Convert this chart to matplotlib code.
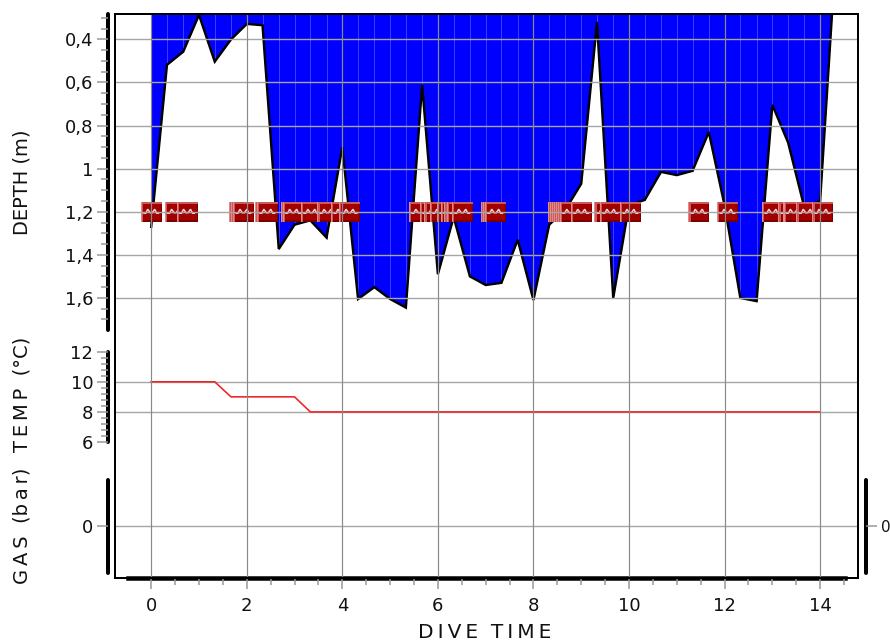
# %% Import modules
import matplotlib
matplotlib.use('Agg')
import matplotlib.pyplot as plt
from matplotlib.patches import Rectangle, PathPatch
from matplotlib.path import Path
from matplotlib.ticker import AutoMinorLocator, FixedFormatter, FixedLocator
from matplotlib.transforms import Affine2D, ScaledTranslation

# %% Data
time = [0, 0.33, 0.67, 1, 1.33, 1.67, 2, 2.33, 2.67, 3, 3.33,
        3.67, 4, 4.33, 4.67, 5, 5.33, 5.67, 6, 6.33, 6.67, 7,
        7.33, 7.67, 8, 8.33, 8.67, 9, 9.33, 9.67, 10, 10.33,
        10.67, 11, 11.33, 11.67, 12, 12.33, 12.67, 13, 13.33,
        13.67, 14, 14.33]
depth = [1.27, 0.518, 0.457, 0.286, 0.503, 0.40, 0.328, 0.334, 1.373, 1.26, 1.24,
         1.32, 0.90, 1.605, 1.55, 1.605, 1.645, 0.61, 1.49, 1.225, 1.50, 1.54,
         1.53, 1.33, 1.61, 1.26, 1.19, 1.07, 0.32, 1.60, 1.17, 1.145,
         1.015, 1.03, 1.01, 0.83, 1.17, 1.60, 1.615, 0.704, 0.879,
         1.18, 1.15, 0.0]
temp_time = [0, 1.33, 1.67, 3, 3.33, 14]
temp = [10, 10, 9, 9, 8, 8]

# times of the event icons
events = [0, 0.5, 0.75, 1.84, 1.885, 1.93, 2.39, 2.43, 2.93, 2.97, 3.35, 3.69,
          3.98, 4.15, 5.61, 5.84, 5.93, 6.05, 6.2, 6.28, 6.35, 6.41, 6.51,
          7.12, 7.16, 7.2, 8.52, 8.57, 8.61, 8.65, 8.69, 8.73, 8.77, 9.0,
          9.49, 9.61, 10.03, 11.46, 12.06, 13.0, 13.34, 13.45, 13.72, 14.05]
event_depth = 1.2

time_ticks = [0, 2, 4, 6, 8, 10, 12, 14]
depth_ticks = [0.4, 0.6, 0.8, 1, 1.2, 1.4, 1.6]
depth_labels = ['0,4', '0,6', '0,8', '1', '1,2', '1,4', '1,6']
temp_ticks = [6, 8, 10, 12]

# %% Figure helpers
W, H = 890, 642
DPI = 100
pt = 72 / DPI  # one pixel in points
grey = '#969696'
text_font = 'DejaVu Sans'
text_colour = '#111111'

fig = plt.figure(figsize=(W / DPI, H / DPI), dpi=DPI)


def px_axes(left, right, top, bottom, zorder):
    ax = fig.add_axes([left / W, 1 - bottom / H, (right - left) / W, (bottom - top) / H],
                      zorder=zorder)
    ax.patch.set_visible(False)
    for side in ax.spines:
        ax.spines[side].set_visible(False)
    ax.tick_params(bottom=False, labelbottom=False)
    return ax


def x_range(left, right):
    return (left - 151.2) / 47.78, (right - 151.2) / 47.78


def y_axis(ax, ticks, labels=None):
    sp = ax.spines['left']
    sp.set_visible(True)
    sp.set_position(('outward', 7.6 * pt))
    sp.set_linewidth(4 * pt)
    sp.set_capstyle('round')
    ax.yaxis.set_major_locator(FixedLocator(ticks))
    if labels:
        ax.yaxis.set_major_formatter(FixedFormatter(labels))
    ax.tick_params(axis='y', which='major', length=11 * pt, width=1.5 * pt, color=grey,
                   pad=3.5 * pt, labelsize=13, labelfontfamily=text_font, labelcolor=text_colour)
    ax.tick_params(axis='y', which='minor', length=7.5 * pt, width=1.5 * pt, color=grey)
    ax.set_axisbelow(False)
    ax.grid(True, axis='y', color='#a6a6a6', lw=1.4 * pt)


# %% Depth panel
depth_ax = px_axes(115.3, 858.3, 14, 330, 2)
depth_ax.set_xlim(*x_range(115.3, 858.3))
depth_ax.set_ylim(1.749, 0.282)
depth_ax.fill_between(time, depth, 0, color='#0000ff', lw=0)
depth_ax.vlines(time, 0, depth, color='#3c3cff', lw=1 * pt)
depth_ax.plot(time, depth, color='k', lw=2.4 * pt, solid_joinstyle='miter')
y_axis(depth_ax, depth_ticks, depth_labels)
depth_ax.yaxis.set_minor_locator(AutoMinorLocator(4))

# event icons, later ones sit on top of earlier ones
humps = Path([(-8, -1.5), (-5.5, -1.5), (-3.5, 2.5), (-1, -1), (1, -1), (3.5, 2.5), (5.5, -1.5), (8, -1.5)])
for i, t in enumerate(events):
    place = Affine2D() + ScaledTranslation(t, event_depth, depth_ax.transData)
    z = 2.1 + i * 0.005
    parts = [((-10.5, -10), 21, 20, '#e08a8a'),
             ((-9.3, -10), 19.8, 20, '#c85a5a'),
             ((-8, -10), 18.5, 18.2, '#7a0000'),
             ((-8, -8.6), 17.5, 16.8, '#a30000')]
    for xy, w, h, c in parts:
        depth_ax.add_patch(Rectangle(xy, w, h, fc=c, lw=0, transform=place,
                                     zorder=z, clip_on=False))
    depth_ax.add_patch(PathPatch(humps, fill=False, ec='#f5d5d5', lw=1.5 * pt,
                                 transform=place, zorder=z + 0.001, clip_on=False))

# %% Temperature panel
temp_ax = px_axes(115.3, 858.3, 351.7, 442, 3)
temp_ax.set_xlim(*x_range(115.3, 858.3))
temp_ax.set_ylim(6, 12)
temp_ax.plot(temp_time, temp, color='#ee2222', lw=1.6 * pt, zorder=3)
y_axis(temp_ax, temp_ticks)
temp_ax.yaxis.set_minor_locator(AutoMinorLocator(5))
temp_ax.yaxis.get_gridlines()[0].set_visible(False)
temp_ax.yaxis.get_gridlines()[-1].set_visible(False)

# %% Gas panel, same axis on both sides
gas_ax = px_axes(115.3, 858.3, 480, 573, 3)
gas_ax.set_xlim(*x_range(115.3, 858.3))
gas_ax.set_ylim(-0.509, 0.491)
y_axis(gas_ax, [0])
sp = gas_ax.spines['right']
sp.set_visible(True)
sp.set_position(('outward', 7.7 * pt))
sp.set_linewidth(4 * pt)
sp.set_capstyle('round')
gas_ax.tick_params(axis='y', right=True, labelright=True)
# right hand label only just fits inside the picture
gas_ax.yaxis.get_major_ticks()[0].label2.set_fontsize(11)

# %% Time axis with the vertical grid
time_ax = px_axes(128, 845, 14, 577.7, 4)
time_ax.set_xlim(*x_range(128, 845))
time_ax.set_yticks([])
sp = time_ax.spines['bottom']
sp.set_visible(True)
sp.set_linewidth(4.5 * pt)
time_ax.xaxis.set_major_locator(FixedLocator(time_ticks))
time_ax.xaxis.set_minor_locator(AutoMinorLocator(4))
time_ax.tick_params(axis='x', which='major', bottom=True, labelbottom=True, length=11 * pt,
                    width=1.5 * pt, color=grey, pad=6, labelsize=13,
                    labelfontfamily=text_font, labelcolor=text_colour)
time_ax.tick_params(axis='x', which='minor', bottom=True, length=7 * pt,
                    width=1.5 * pt, color=grey)
time_ax.set_axisbelow(False)
time_ax.grid(True, axis='x', color='#8a8a8a', lw=1.2 * pt)

# %% Plot frame
frame_ax = px_axes(115.3, 858.3, 14, 577.7, 5)
frame_ax.set_xticks([])
frame_ax.set_yticks([])
for side in frame_ax.spines:
    frame_ax.spines[side].set_visible(True)
    frame_ax.spines[side].set_linewidth(2 * pt)

# %% Axis titles
titles = [('DEPTH (m)', 182),
          ('T\u2009E\u2009M\u2009P  (°C)', 394.5),
          ('G\u2009A\u2009S  (b\u2009a\u2009r)', 525.5)]
for label, y in titles:
    fig.text(22 / W, 1 - y / H, label, rotation=90, ha='center', va='center',
             fontsize=14, family=text_font, color=text_colour)
fig.text(485 / W, 1 - 633 / H, 'D\u2009I\u2009V\u2009E  T\u2009I\u2009M\u2009E', ha='center', va='center',
         fontsize=14.5, family=text_font, color=text_colour)

fig.savefig('out.png', dpi=DPI)
